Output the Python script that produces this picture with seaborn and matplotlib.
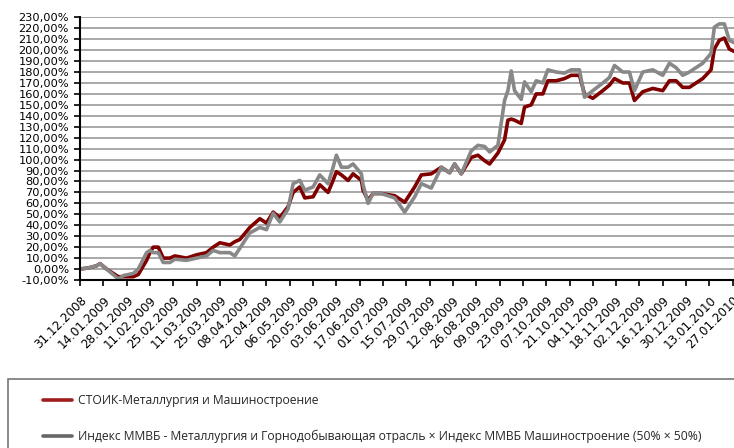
import pandas as pd
import matplotlib.pyplot as plt
import matplotlib.dates as mdates
from matplotlib.ticker import FuncFormatter
from matplotlib.patches import Rectangle
from matplotlib.lines import Line2D
import seaborn as sns

dates = ["31.12.2008", "05.01.2009", "10.01.2009", "12.01.2009", "16.01.2009", "23.01.2009",
         "26.01.2009", "01.02.2009", "04.02.2009", "09.02.2009", "11.02.2009", "13.02.2009",
         "16.02.2009", "19.02.2009", "23.02.2009", "26.02.2009", "05.03.2009", "11.03.2009",
         "17.03.2009", "21.03.2009", "25.03.2009", "31.03.2009", "03.04.2009", "06.04.2009",
         "12.04.2009", "18.04.2009", "22.04.2009", "26.04.2009", "30.04.2009", "05.05.2009",
         "08.05.2009", "12.05.2009", "15.05.2009", "20.05.2009", "24.05.2009", "29.05.2009",
         "01.06.2009", "03.06.2009", "06.06.2009", "10.06.2009", "13.06.2009", "18.06.2009",
         "19.06.2009", "22.06.2009", "25.06.2009", "30.06.2009", "08.07.2009", "14.07.2009",
         "20.07.2009", "24.07.2009", "30.07.2009", "05.08.2009", "10.08.2009", "13.08.2009",
         "17.08.2009", "23.08.2009", "27.08.2009", "31.08.2009", "03.09.2009", "08.09.2009",
         "12.09.2009", "14.09.2009", "16.09.2009", "18.09.2009", "22.09.2009", "24.09.2009",
         "28.09.2009", "01.10.2009", "05.10.2009", "08.10.2009", "13.10.2009", "18.10.2009",
         "22.10.2009", "27.10.2009", "30.10.2009", "04.11.2009", "10.11.2009", "14.11.2009",
         "17.11.2009", "22.11.2009", "26.11.2009", "29.11.2009", "04.12.2009", "10.12.2009",
         "16.12.2009", "20.12.2009", "24.12.2009", "28.12.2009", "01.01.2010", "09.01.2010",
         "14.01.2010", "16.01.2010", "19.01.2010", "22.01.2010", "25.01.2010", "29.01.2010"]

stoik = [0, 1, 3, 5, 0, -7,
         -7, -7, -5, 8, 15, 20,
         20, 10, 10, 12, 10, 13,
         15, 20, 24, 22, 25, 27,
         38, 46, 42, 52, 47, 57,
         70, 75, 65, 66, 77, 70,
         81, 89, 86, 81, 87, 81,
         72, 63, 69, 69, 67, 61,
         75, 86, 87, 93, 88, 96,
         87, 102, 104, 99, 96, 106,
         118, 136, 137, 136, 133, 148,
         150, 160, 160, 172, 172, 174,
         177, 177, 160, 156, 163, 168,
         174, 170, 170, 154, 162, 165,
         163, 172, 172, 166, 166, 174,
         182, 201, 209, 211, 201, 198]

mmvb = [0, 1, 3, 5, 0, -9,
        -6, -4, 0, 15, 17, 15,
        15, 6, 6, 9, 8, 10,
        12, 17, 15, 15, 12, 19,
        33, 38, 36, 51, 43, 55,
        78, 81, 72, 75, 86, 78,
        93, 104, 93, 93, 96, 87,
        77, 60, 69, 69, 65, 52,
        66, 78, 74, 93, 88, 96,
        87, 108, 113, 112, 107, 113,
        154, 163, 181, 163, 155, 171,
        162, 172, 170, 182, 180, 179,
        182, 182, 157, 163, 170, 175,
        186, 180, 180, 163, 180, 182,
        177, 188, 184, 177, 180, 188,
        197, 221, 224, 224, 209, 206]

label_stoik = "СТОИК-Металлургия и Машиностроение"
label_mmvb = ("Индекс ММВБ - Металлургия и Горнодобывающая отрасль × "
              "Индекс ММВБ Машиностроение (50% × 50%)")

df = pd.DataFrame({
    "date": pd.to_datetime(dates, format="%d.%m.%Y"),
    "stoik": stoik,
    "mmvb": mmvb,
})

sns.set_style("white")
plt.rcParams["font.family"] = ["DejaVu Sans"]

fig = plt.figure(figsize=(7.34, 4.48), dpi=100)
ax = fig.add_axes([80 / 734, 0.375, 656 / 734, 0.5864])

sns.lineplot(data=df, x="date", y="stoik", color="#800000", lw=2.6, ax=ax, legend=False)
sns.lineplot(data=df, x="date", y="mmvb", color="#888888", lw=2.6, ax=ax, legend=False)

start = pd.Timestamp("2008-12-31")
ax.set_xlim(start, start + pd.Timedelta(days=394))
ax.set_ylim(-10, 230)
ax.set_yticks(range(-10, 231, 10))
ax.yaxis.set_major_formatter(FuncFormatter(lambda v, p: f"{v:.2f}%".replace(".", ",")))
ax.set_xticks(pd.date_range(start, periods=29, freq="14D"))
ax.xaxis.set_major_formatter(mdates.DateFormatter("%d.%m.%Y"))
plt.setp(ax.get_xticklabels(), rotation=45, ha="right", rotation_mode="anchor")

ax.grid(axis="y", color="#9a9a9a", lw=1.2)
ax.set_axisbelow(True)
ax.set_xlabel("")
ax.set_ylabel("")
for s in ["top", "right"]:
    ax.spines[s].set_visible(False)
for s in ["left", "bottom"]:
    ax.spines[s].set_color("black")
    ax.spines[s].set_linewidth(1.5)
ax.tick_params(axis="both", direction="out", length=4, width=1.2, color="black",
               colors="black", left=True, bottom=True)
ax.tick_params(axis="y", pad=4, labelsize=8.2)
ax.tick_params(axis="x", pad=6, labelsize=8.6)

handles = [Line2D([], [], color="#9e1e1e", lw=2.6),
           Line2D([], [], color="#666666", lw=2.6)]
fig.legend(handles, [label_stoik, label_mmvb], loc="upper left",
           bbox_to_anchor=(38 / 734, 1 - 389 / 448),
           bbox_transform=fig.transFigure, frameon=False, borderaxespad=0,
           prop={"family": ["Open Sans", "DejaVu Sans"], "size": 8.7},
           handlelength=2.4, handletextpad=0.5, labelspacing=1.9)

fig.patches.append(Rectangle((8 / 734, -0.2), 1.1, 0.2 + (1 - 379 / 448),
                             transform=fig.transFigure, fill=False,
                             edgecolor="#777777", lw=1.2))

fig.savefig("out.png", dpi=100)
